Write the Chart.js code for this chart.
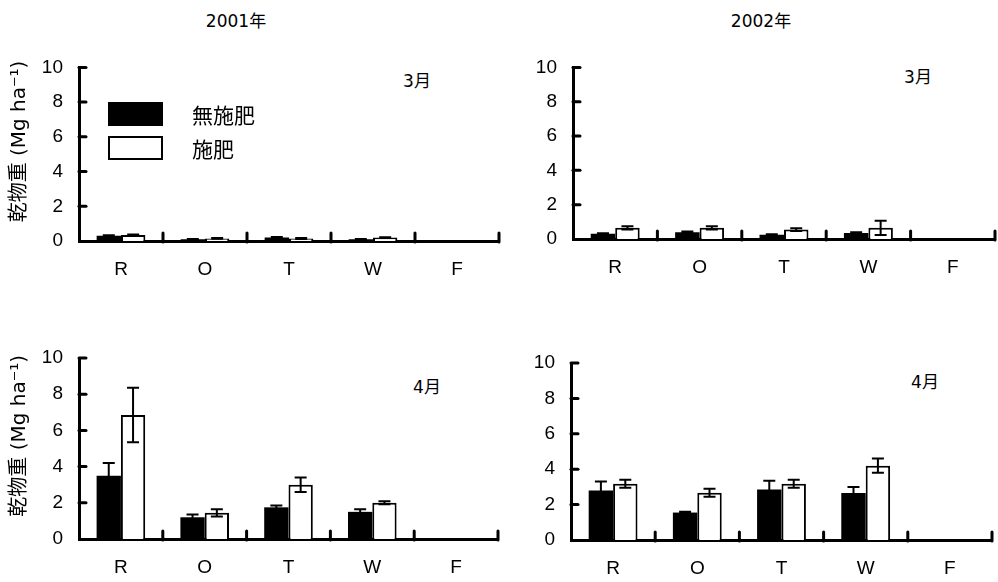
<!DOCTYPE html>
<html>
<head>
<meta charset="utf-8">
<script src="https://cdn.jsdelivr.net/npm/chart.js@4.4.1/dist/chart.umd.min.js"></script>
<style>
  body { margin: 0; background: #fff; width: 998px; height: 582px; position: relative; overflow: hidden;
         font-family: "DejaVu Sans", "Noto Sans CJK JP", sans-serif; color: #000; }
  .panel { position: absolute; }
  .txt { position: absolute; transform: translate(-50%, -50%); white-space: nowrap; font-size: 17px; }
</style>
</head>
<body>
<div class="txt" style="left:236px;top:19px">2001年</div>
<div class="txt" style="left:761px;top:19px">2002年</div>
<div class="txt" style="left:417px;top:79px">3月</div>
<div class="txt" style="left:918px;top:75px">3月</div>
<div class="txt" style="left:427px;top:385px">4月</div>
<div class="txt" style="left:925px;top:380px">4月</div>

<canvas id="c1" class="panel" width="510" height="260" style="left:0;top:40px"></canvas>
<canvas id="c2" class="panel" width="488" height="260" style="left:510px;top:40px"></canvas>
<canvas id="c3" class="panel" width="510" height="252" style="left:0;top:330px"></canvas>
<canvas id="c4" class="panel" width="488" height="252" style="left:510px;top:330px"></canvas>

<script>
const categories = ["R", "O", "T", "W", "F"];
const seriesNames = ["無施肥", "施肥"];
const yTicks = [0, 2, 4, 6, 8, 10];
// leading spaces nudge the rotated title up a little, as in the original
const yTitle = "    乾物重 (Mg ha⁻¹)";

// 2001 March
const mar2001None = [0.3, 0.1, 0.2, 0.1, null];
const mar2001NoneErr = [0.03, 0.02, 0.03, 0.02, null];
const mar2001Fert = [0.35, 0.15, 0.15, 0.2, null];
const mar2001FertErr = [0.03, 0.02, 0.03, 0.02, null];

// 2002 March
const mar2002None = [0.3, 0.4, 0.25, 0.35, null];
const mar2002NoneErr = [0.04, 0.04, 0.03, 0.04, null];
const mar2002Fert = [0.65, 0.65, 0.55, 0.65, null];
const mar2002FertErr = [0.1, 0.1, 0.08, 0.42, null];

// 2001 April
const apr2001None = [3.5, 1.2, 1.75, 1.5, null];
const apr2001NoneErr = [0.7, 0.15, 0.1, 0.15, null];
const apr2001Fert = [6.85, 1.45, 3.0, 2.0, null];
const apr2001FertErr = [1.5, 0.2, 0.4, 0.08, null];

// 2002 April
const apr2002None = [2.8, 1.55, 2.85, 2.65, null];
const apr2002NoneErr = [0.5, 0.05, 0.5, 0.35, null];
const apr2002Fert = [3.18, 2.67, 3.18, 4.2, null];
const apr2002FertErr = [0.23, 0.23, 0.23, 0.4, null];

const tickFont = { family: "'Liberation Sans', 'Noto Sans CJK JP', sans-serif", size: 19 };

// error bars drawn from each bar's own position
const errorBars = {
  id: "errorBars",
  afterDatasetsDraw(chart) {
    const ctx = chart.ctx;
    const y = chart.scales.y;
    ctx.save();
    ctx.strokeStyle = "#000";
    ctx.lineWidth = 2;
    chart.data.datasets.forEach((ds, i) => {
      const meta = chart.getDatasetMeta(i);
      meta.data.forEach((bar, j) => {
        const v = ds.data[j], e = ds.errors[j];
        if (v == null || !e) return;
        const top = y.getPixelForValue(v + e);
        const bot = y.getPixelForValue(Math.max(v - e, 0));
        ctx.beginPath();
        ctx.moveTo(bar.x, top); ctx.lineTo(bar.x, bot);
        ctx.moveTo(bar.x - 6, top); ctx.lineTo(bar.x + 6, top);
        ctx.moveTo(bar.x - 6, bot); ctx.lineTo(bar.x + 6, bot);
        ctx.stroke();
      });
    });
    ctx.restore();
  }
};

// tick marks: inward on y, crossing on x at category borders
const axisTicks = {
  id: "axisTicks",
  afterDraw(chart) {
    const ctx = chart.ctx;
    const x = chart.scales.x, y = chart.scales.y;
    const area = chart.chartArea;
    ctx.save();
    ctx.strokeStyle = "#000";
    ctx.lineWidth = 3;
    ctx.lineCap = "round";
    yTicks.forEach((t) => {
      if (t === 0) return;
      const py = y.getPixelForValue(t);
      ctx.beginPath();
      ctx.moveTo(area.left, py); ctx.lineTo(area.left + 7, py);
      ctx.stroke();
    });
    const half = (x.getPixelForValue(1) - x.getPixelForValue(0)) / 2;
    categories.forEach((c, i) => {
      const px = x.getPixelForValue(i) + half;
      ctx.beginPath();
      ctx.moveTo(px, area.bottom - 8); ctx.lineTo(px, area.bottom + 1);
      ctx.stroke();
    });
    ctx.restore();
  }
};

// legend boxes with the dataset labels
const boxLegend = {
  id: "boxLegend",
  afterDraw(chart, args, opts) {
    if (!opts.show) return;
    const ctx = chart.ctx;
    ctx.save();
    chart.data.datasets.forEach((ds, i) => {
      const by = opts.y + i * opts.gap;
      ctx.fillStyle = ds.backgroundColor;
      ctx.fillRect(opts.x, by, opts.w, opts.h);
      ctx.strokeStyle = "#000";
      ctx.lineWidth = 2;
      ctx.strokeRect(opts.x + 1, by + 1, opts.w - 2, opts.h - 2);
      ctx.fillStyle = "#000";
      ctx.font = "21px 'Noto Sans CJK JP', sans-serif";
      ctx.textBaseline = "middle";
      ctx.fillText(ds.label, opts.textX, by + opts.h / 2 + 1);
    });
    ctx.restore();
  }
};

function makePanel(id, none, noneErr, fert, fertErr, geo) {
  new Chart(document.getElementById(id), {
    type: "bar",
    data: {
      labels: categories,
      datasets: [
        { label: seriesNames[0], data: none, errors: noneErr, backgroundColor: "#000",
          borderColor: "#000", borderWidth: 0 },
        { label: seriesNames[1], data: fert, errors: fertErr, backgroundColor: "#fff",
          borderColor: "#000", borderWidth: 2 }
      ]
    },
    options: {
      responsive: false,
      animation: false,
      categoryPercentage: 0.58,
      barPercentage: 1.0,
      layout: { padding: { top: geo.pt, right: geo.pr, left: 0, bottom: 0 } },
      plugins: {
        legend: { display: false },
        tooltip: { enabled: false },
        boxLegend: geo.legend || { show: false }
      },
      scales: {
        x: {
          grid: { display: false, drawTicks: false },
          border: { display: true, color: "#000", width: 3 },
          ticks: { color: "#000", font: tickFont, padding: 17 },
          afterFit: (s) => { s.height = geo.xh; }
        },
        y: {
          min: 0, max: 10,
          afterBuildTicks: (s) => { s.ticks = yTicks.map((v) => ({ value: v })); },
          grid: { display: false, drawTicks: false },
          border: { display: true, color: "#000", width: 3 },
          ticks: { color: "#000", font: tickFont, padding: 16 },
          title: {
            display: geo.title, text: yTitle, color: "#000",
            font: { family: "'DejaVu Sans', 'Noto Sans CJK JP', sans-serif", size: 20 },
            padding: { top: 8, bottom: 0 }
          },
          afterFit: (s) => { s.width = geo.yw; }
        }
      }
    },
    plugins: [errorBars, axisTicks, boxLegend]
  });
}

makePanel("c1", mar2001None, mar2001NoneErr, mar2001Fert, mar2001FertErr,
  { pt: 23, pr: 11, yw: 79, xh: 59, title: true,
    legend: { show: true, x: 108, y: 62, w: 55, h: 24, gap: 34, textX: 192 } });
makePanel("c2", mar2002None, mar2002NoneErr, mar2002Fert, mar2002FertErr,
  { pt: 22, pr: 3, yw: 63, xh: 61, title: false });
makePanel("c3", apr2001None, apr2001NoneErr, apr2001Fert, apr2001FertErr,
  { pt: 28, pr: 12, yw: 79, xh: 43, title: true });
makePanel("c4", apr2002None, apr2002NoneErr, apr2002Fert, apr2002FertErr,
  { pt: 33, pr: 6, yw: 61, xh: 42, title: false });
</script>
</body>
</html>
